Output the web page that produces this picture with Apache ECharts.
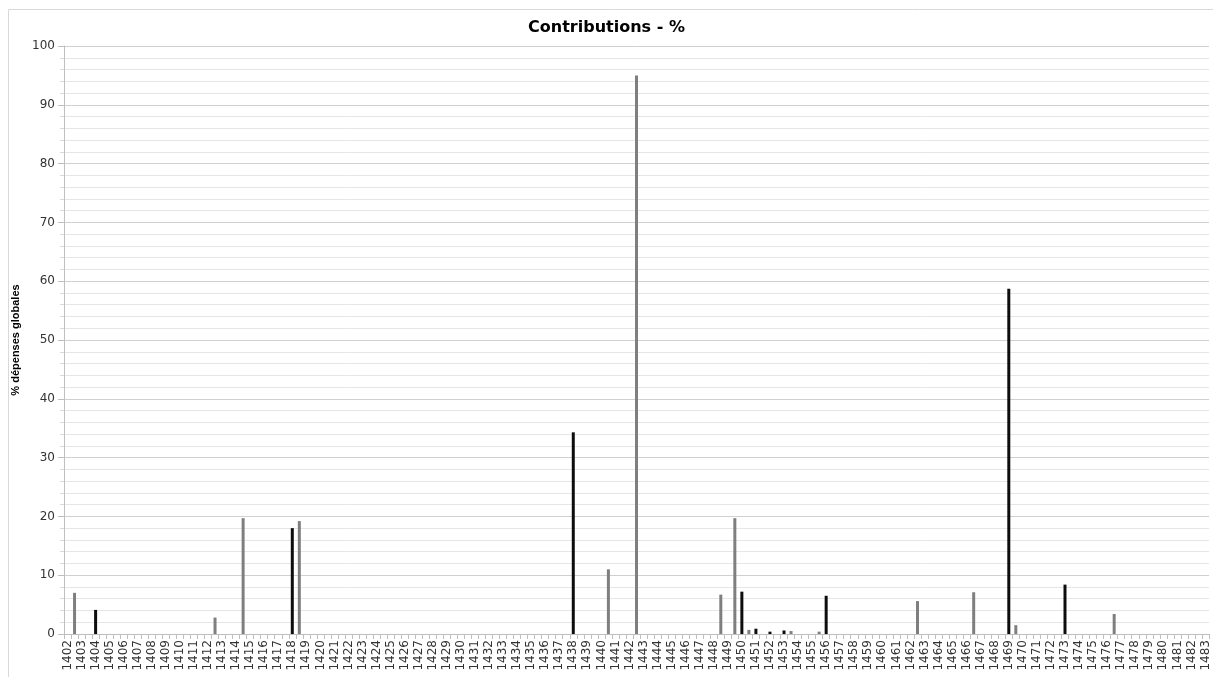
<!DOCTYPE html>
<html>
<head>
<meta charset="utf-8">
<script src="https://cdn.jsdelivr.net/npm/echarts@6/dist/echarts.min.js"></script>
<style>html,body{margin:0;padding:0;background:#fff}#c{width:1213px;height:677px}</style>
</head>
<body>
<div id="c"></div>
<script>
// Years 1402..1483 (tick labels)
const years = [1402,1403,1404,1405,1406,1407,1408,1409,1410,1411,1412,1413,1414,1415,1416,1417,1418,1419,1420,1421,
1422,1423,1424,1425,1426,1427,1428,1429,1430,1431,1432,1433,1434,1435,1436,1437,1438,1439,1440,1441,
1442,1443,1444,1445,1446,1447,1448,1449,1450,1451,1452,1453,1454,1455,1456,1457,1458,1459,1460,1461,
1462,1463,1464,1465,1466,1467,1468,1469,1470,1471,1472,1473,1474,1475,1476,1477,1478,1479,1480,1481,1482,1483];

// black series: first slot of each year
const blackValues = {1404:4.1, 1418:18.0, 1438:34.3, 1450:7.2, 1451:0.9, 1452:0.4, 1453:0.6, 1456:6.5, 1469:58.7, 1473:8.4};
// gray series: second slot of each year
const grayValues = {1402:7.0, 1412:2.8, 1414:19.7, 1418:19.2, 1440:11.0, 1442:95.0, 1448:6.7, 1449:19.7, 1450:0.7,
  1453:0.5, 1455:0.4, 1462:5.6, 1466:7.1, 1469:1.5, 1476:3.4};

const yTicks = [0,10,20,30,40,50,60,70,80,90,100];

// build slot categories: two slots per year (the last year has one)
const categories = [], blackData = [], grayData = [];
years.forEach((y, i) => {
  categories.push(String(y)); blackData.push(blackValues[y] || 0); grayData.push(0);
  if (i < years.length - 1) { categories.push(String(y)); blackData.push(0); grayData.push(grayValues[y] || 0); }
});

const chart = echarts.init(document.getElementById('c'), null, {renderer: 'canvas'});
chart.setOption({
  animation: false,
  backgroundColor: '#fff',
  title: {
    text: 'Contributions - %', left: 'center', top: 15,
    textStyle: {fontFamily: 'DejaVu Sans', fontSize: 16, fontWeight: 'bold', color: '#000'}
  },
  graphic: [{type: 'rect', shape: {x: 8.5, y: 9.5, width: 1220, height: 700},
    style: {fill: 'none', stroke: '#d9d9d9', lineWidth: 1}, silent: true}],
  grid: {left: 64, top: 46, right: 4, bottom: 43, containLabel: false},
  xAxis: {
    type: 'category', data: categories, boundaryGap: true,
    axisLine: {lineStyle: {color: '#bfbfbf'}},
    axisTick: {show: true, interval: 0, length: 5, lineStyle: {color: '#bfbfbf'}},
    axisLabel: {interval: 1, rotate: 90, fontFamily: 'DejaVu Sans', fontSize: 12, color: '#333', margin: 6},
    splitLine: {show: false}
  },
  yAxis: {
    type: 'value', min: yTicks[0], max: yTicks[yTicks.length - 1], interval: 10,
    name: '% dépenses globales', nameLocation: 'middle', nameGap: 33,
    nameTextStyle: {fontFamily: 'Liberation Sans', fontSize: 11, fontWeight: 'bold', color: '#000'},
    axisLine: {show: true, lineStyle: {color: '#bfbfbf'}},
    axisTick: {show: true, length: 6, lineStyle: {color: '#bfbfbf'}},
    minorTick: {show: true, splitNumber: 5, length: 4, lineStyle: {color: '#d9d9d9'}},
    axisLabel: {fontFamily: 'DejaVu Sans', fontSize: 12, color: '#333', margin: 9},
    splitLine: {show: true, lineStyle: {color: '#d0d0d0', width: 1}},
    minorSplitLine: {show: true, lineStyle: {color: '#e6e6e6', width: 1}}
  },
  series: [
    {name: 'noir', type: 'bar', data: blackData, barWidth: 3, barGap: '-100%',
     itemStyle: {color: '#0d0d0d'}},
    {name: 'gris', type: 'bar', data: grayData, barWidth: 3, barGap: '-100%',
     itemStyle: {color: '#7f7f7f'}}
  ]
});
</script>
</body>
</html>
